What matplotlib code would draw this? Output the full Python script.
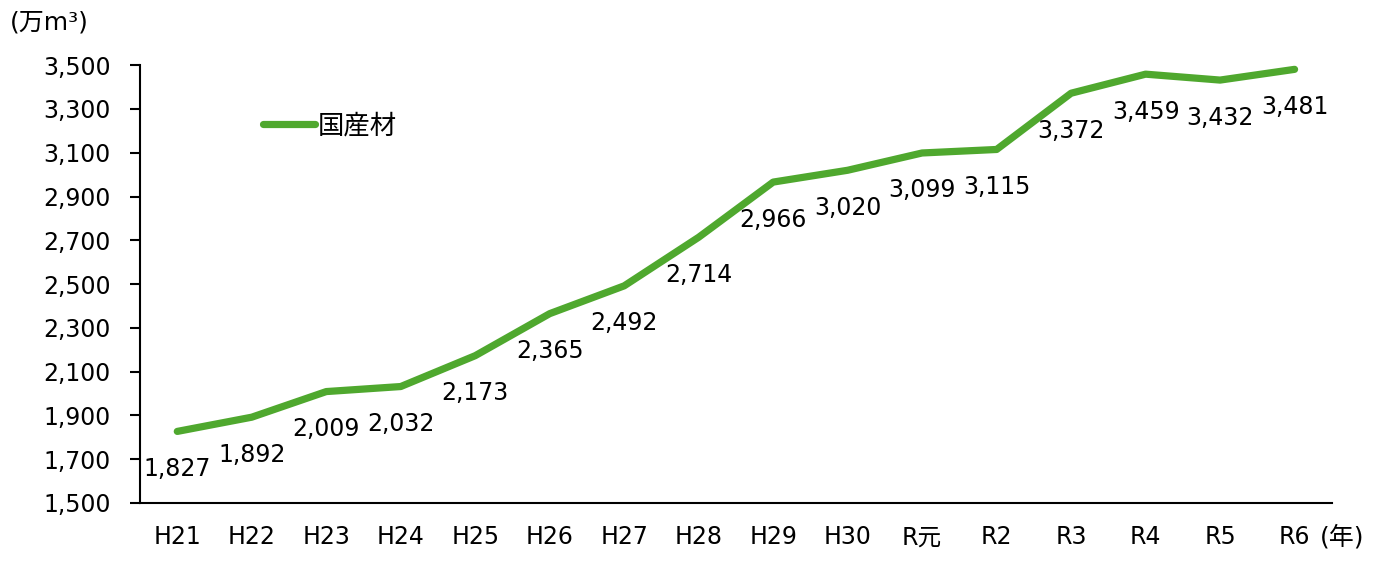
import matplotlib
matplotlib.use('Agg')
import matplotlib.pyplot as plt

plt.rcParams['font.family'] = ['DejaVu Sans', 'Noto Sans CJK JP']

# 国産材供給量 (万m3)
years = ['H21', 'H22', 'H23', 'H24', 'H25', 'H26', 'H27', 'H28',
         'H29', 'H30', 'R元', 'R2', 'R3', 'R4', 'R5', 'R6']
values = [1827, 1892, 2009, 2032, 2173, 2365, 2492, 2714,
          2966, 3020, 3099, 3115, 3372, 3459, 3432, 3481]
yticks = list(range(1500, 3501, 200))

green = '#4fa82e'
fs = 17

fig = plt.figure(figsize=(13.73, 5.62), dpi=100)
ax = fig.add_axes([0.102, 0.105, 0.868, 0.779])

x = list(range(len(years)))
ax.plot(x, values, color=green, linewidth=5.2, solid_capstyle='round',
        solid_joinstyle='round', label='国産材')

for xi, v in zip(x, values):
    ax.annotate(f'{v:,}', (xi, v), xytext=(0, -27), textcoords='offset points',
                ha='center', va='center', fontsize=fs)

ax.set_xlim(-0.5, len(years) - 0.5)
ax.set_ylim(1500, 3500)
ax.set_yticks(yticks)
ax.set_yticklabels([f'{t:,}' for t in yticks], fontsize=fs)
ax.set_xticks(x)
ax.set_xticklabels(years, fontsize=fs)
ax.tick_params(axis='x', length=0, pad=16)
ax.tick_params(axis='y', length=7, width=1.5, pad=14, direction='out')

for s in ['top', 'right']:
    ax.spines[s].set_visible(False)
for s in ['left', 'bottom']:
    ax.spines[s].set_linewidth(1.5)

ax.legend(loc='upper left', bbox_to_anchor=(0.083, 0.945), frameon=False,
          fontsize=19, handlelength=2.0, handletextpad=0.1)

fig.text(0.007, 0.96, '(万m³)', fontsize=18, ha='left', va='center')
fig.text(0.961, 0.045, '(年)', fontsize=18, ha='left', va='center')

fig.savefig('out.png', dpi=100)
